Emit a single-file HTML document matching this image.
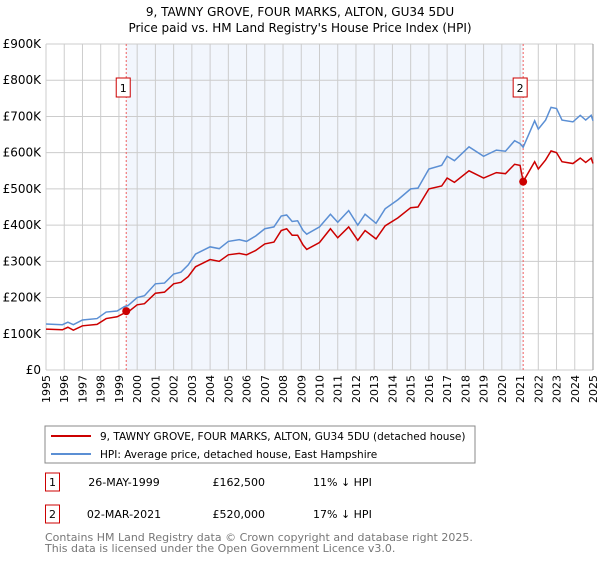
<!DOCTYPE html>
<html><head><meta charset="utf-8"><style>
body{margin:0;background:#fff;font-family:"Liberation Sans","DejaVu Sans",sans-serif;}
svg text{font-family:"DejaVu Sans","Liberation Sans",sans-serif;}
</style></head><body>
<svg id="c" width="600" height="560" viewBox="0 0 600 560">
<text x="300" y="16" text-anchor="middle" font-size="12">9, TAWNY GROVE, FOUR MARKS, ALTON, GU34 5DU</text>
<text x="300" y="32" text-anchor="middle" font-size="12">Price paid vs. HM Land Registry's House Price Index (HPI)</text>
<g id="plot"></g>
<rect x="45" y="426" width="430" height="37" fill="#fff" stroke="#888"/>
<line x1="51" y1="436" x2="91" y2="436" stroke="#cc0000" stroke-width="2"/>
<text x="100" y="440" font-size="10.5">9, TAWNY GROVE, FOUR MARKS, ALTON, GU34 5DU (detached house)</text>
<line x1="51" y1="454" x2="91" y2="454" stroke="#5b8fd4" stroke-width="2"/>
<text x="100" y="458" font-size="10.5">HPI: Average price, detached house, East Hampshire</text>
<g font-size="11">
<rect x="45.5" y="473" width="14" height="18" fill="#fff" stroke="#cc0000"/>
<text x="52.5" y="486" text-anchor="middle">1</text>
<text x="124" y="486" text-anchor="middle">26-MAY-1999</text>
<text x="265" y="486" text-anchor="end">£162,500</text>
<text x="313" y="486">11% ↓ HPI</text>
<rect x="45.5" y="505" width="14" height="18" fill="#fff" stroke="#cc0000"/>
<text x="52.5" y="518" text-anchor="middle">2</text>
<text x="124" y="518" text-anchor="middle">02-MAR-2021</text>
<text x="265" y="518" text-anchor="end">£520,000</text>
<text x="313" y="518">17% ↓ HPI</text>
</g>
<text x="45" y="541" font-size="11" fill="#777">Contains HM Land Registry data © Crown copyright and database right 2025.</text>
<text x="45" y="552" font-size="11" fill="#777">This data is licensed under the Open Government Licence v3.0.</text>
</svg>
<script>
const yTicks=[0,100,200,300,400,500,600,700,800,900];
const yTickLabels=["£0","£100K","£200K","£300K","£400K","£500K","£600K","£700K","£800K","£900K"];
const xYears=[1995,1996,1997,1998,1999,2000,2001,2002,2003,2004,2005,2006,2007,2008,2009,2010,2011,2012,2013,2014,2015,2016,2017,2018,2019,2020,2021,2022,2023,2024,2025];
const hpiT=[1995,1995.9,1996.2,1996.5,1997,1997.8,1998.3,1998.9,1999.3,1999.5,2000,2000.4,2001,2001.5,2002,2002.4,2002.8,2003.2,2003.6,2004,2004.5,2005,2005.6,2006,2006.5,2007,2007.5,2007.9,2008.2,2008.5,2008.8,2009.1,2009.3,2010,2010.6,2011,2011.6,2012.1,2012.5,2013.1,2013.6,2014.3,2015,2015.4,2016,2016.7,2017,2017.4,2018.2,2019,2019.7,2020.2,2020.7,2021.0,2021.17,2021.8,2022,2022.4,2022.7,2023,2023.3,2023.9,2024.3,2024.6,2024.9,2025];
const hpiV=[127,125,132,125,138,142,160,163,175,178,200,205,238,240,265,270,290,320,330,340,335,355,360,355,370,390,395,425,428,410,412,385,375,395,430,408,440,400,430,405,445,470,500,502,555,565,590,578,616,590,607,604,633,625,615,688,665,690,725,722,690,685,703,690,703,688];
const priceT=hpiT;
const priceV=[113,111,118,110,122,126,142,147,157,160,180,183,212,215,238,242,258,285,295,305,300,318,322,318,330,348,353,385,390,372,372,345,333,352,390,365,395,358,385,362,398,420,448,450,500,508,530,518,550,530,545,542,568,565,520,575,555,580,605,600,575,570,585,573,585,570];
const saleT=[1999.4,2021.17];
const saleV=[162.5,520];
const saleLabels=["1","2"];
const X0=46,X1=593,Y0=370,Y1=44;
const xs=t=>X0+(t-1995)/(2025-1995)*(X1-X0);
const ys=v=>Y0-v/900*(Y0-Y1);
const NS="http://www.w3.org/2000/svg";
const g=document.getElementById('plot');
function mk(tag,attrs,parent){const e=document.createElementNS(NS,tag);for(const k in attrs)e.setAttribute(k,attrs[k]);(parent||g).appendChild(e);return e;}
let sh=mk('rect',{x:xs(saleT[0]),y:Y1,width:xs(saleT[1])-xs(saleT[0]),height:Y0-Y1,fill:'#f2f6fd'});


xYears.forEach(y=>{
 const l=mk('line',{x1:xs(y),x2:xs(y),y1:Y1,y2:Y0,stroke:'#ccc','stroke-width':1});
 
 
 const gg=mk('g',{transform:'translate('+(xs(y)+4)+','+(Y0+5)+') rotate(-90)'});
 const t=mk('text',{x:0,y:0,'font-size':11,'text-anchor':'end'},gg);
 t.textContent=y;
 
 
});
yTicks.forEach((v,i)=>{
 const l=mk('line',{x1:X0,x2:X1,y1:ys(v),y2:ys(v),stroke:'#ccc','stroke-width':1});
 
 
 const t=mk('text',{x:X0-5,y:ys(v)+4,'font-size':12,'text-anchor':'end'});
 t.textContent=yTickLabels[i];
 
 
});
const rb=mk('line',{x1:X1,x2:X1,y1:Y1,y2:Y0,stroke:'#999','stroke-width':1});


saleT.forEach((t,i)=>{
 const l=mk('line',{x1:xs(t),x2:xs(t),y1:Y1,y2:Y0,stroke:'#f06060','stroke-width':1,'stroke-dasharray':'2,2'});
 
 
 const r=mk('rect',{x:xs(t)-10,y:78,width:14,height:19,fill:'#fff',stroke:'#cc0000'});
 
 
 const tx=mk('text',{x:xs(t)-3,y:92,'font-size':11,'text-anchor':'middle'});
 tx.textContent=saleLabels[i];
 
 
});
const hp=mk('polyline',{points:hpiT.map((t,i)=>xs(t)+','+ys(hpiV[i])).join(' '),fill:'none',stroke:'#5b8fd4','stroke-width':1.5});


const pp=mk('polyline',{points:priceT.map((t,i)=>xs(t)+','+ys(priceV[i])).join(' '),fill:'none',stroke:'#cc0000','stroke-width':1.5});


saleT.forEach((t,i)=>{
 const c=mk('circle',{cx:xs(t),cy:ys(saleV[i]),r:4,fill:'#cc0000'});
 
 
});
</script>
</body></html>
